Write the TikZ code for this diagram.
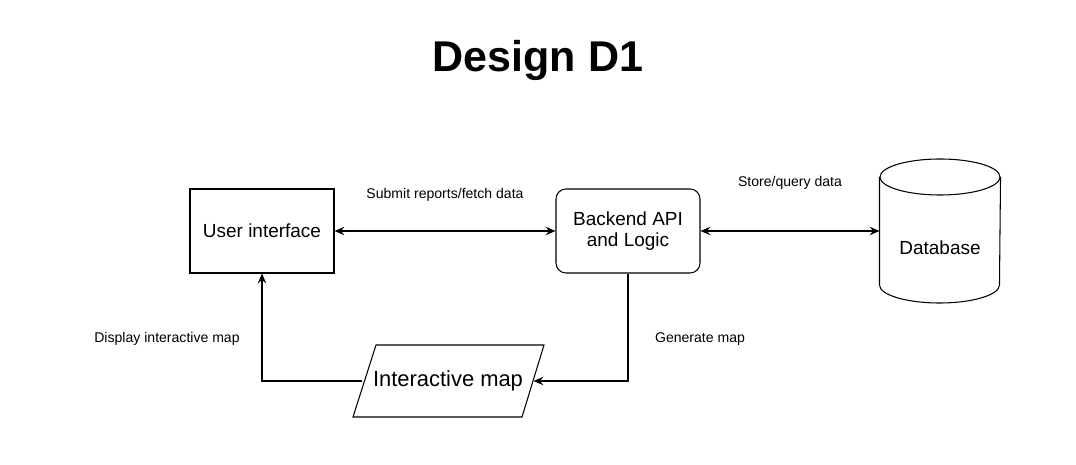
\documentclass[tikz,border=0pt]{standalone}
\usepackage{fontspec}
\setmainfont{Liberation Sans}
\usetikzlibrary{arrows.meta}

\begin{document}
\begin{tikzpicture}[line width=0.75pt,
		box/.style={draw, minimum width=3.6cm, minimum height=2.1cm, align=center, font=\fontsize{13.5}{16}\selectfont},
		lbl/.style={font=\fontsize{10}{12}\selectfont},
		link/.style={>={Stealth[length=7pt,width=6pt,inset=2.5pt]}}]
				\useasboundingbox (0, 0) rectangle (26.9, 11.6);
				\coordinate (Corner1) at (6.55, 2.075);
				\coordinate (Corner2) at (15.7, 2.075);
				
				\node[anchor=base] (title) at (13.45, 9.8) {\fontsize{30.6}{36}\selectfont\bfseries Design D1};
				
				\node[box] (ui) at (6.55, 5.825) {User interface};
				\node[box, rounded corners=0.25cm] (api) at (15.7, 5.825) {Backend API\\[-1pt]and Logic};
				
				\node[minimum width=3cm, minimum height=3.6cm] (db) at (23.5, 5.825) {};
				\draw (23.5, 7.175) ellipse (1.5cm and 0.45cm);
				\draw (db.west |- 0, 7.175) -- (db.west |- 0, 4.475) arc (180:360:1.5cm and 0.45cm) -- (db.east |- 0, 7.175);
				\node[font=\fontsize{13.5}{16}\selectfont] (dbtext) at (23.5, 5.4) {Database};
				
				\node[minimum width=4.25cm, minimum height=1.8cm, font=\fontsize{15.6}{18}\selectfont] (map) at (11.2, 2.075) {Interactive map};
				\draw (8.825, 1.175) -- (13.05, 1.175) -- (13.6, 2.975) -- (9.4, 2.975) -- cycle;
				
				\draw[link, <->] (ui) -- (api) node[lbl, midway, above=0.6cm] (submit) {Submit reports/fetch data};
				\draw[link, <->] (api) -- (db.west) node[lbl, midway, above=0.9cm] (store) {Store/query data};
				\draw[link, ->] (api.south) -- (Corner2) -- (map.east);
				\draw[link, ->] (map.west) -- (Corner1) -- (ui.south);
				
				\node[lbl] (gen) at (17.5, 3.125) {Generate map};
				\node[lbl] (disp) at (4.175, 3.125) {Display interactive map};
			\end{tikzpicture}
\end{document}
